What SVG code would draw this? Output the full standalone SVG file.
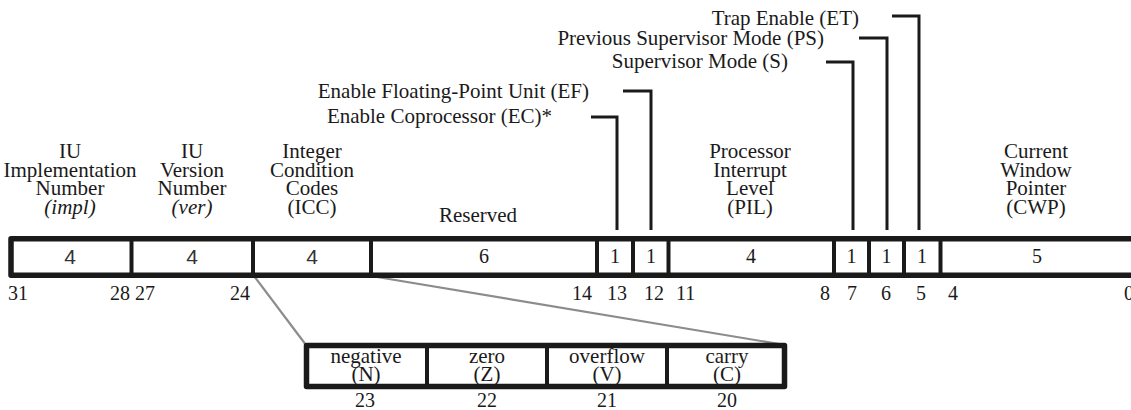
<svg xmlns="http://www.w3.org/2000/svg" width="1131" height="410" viewBox="0 0 1131 410">
<style>
.t{font-family:"Liberation Serif","Times New Roman",serif;font-size:21px;fill:#1a1a1a;text-anchor:middle}
.n{font-family:"Liberation Serif","Times New Roman",serif;font-size:20px;fill:#1a1a1a;text-anchor:middle}
.sans{font-family:"Liberation Sans",Arial,sans-serif;font-size:21px;fill:#333;text-anchor:middle}
.e{text-anchor:end}
.s{text-anchor:start}
.i{font-style:italic}
.box{fill:#fff;stroke:#1a1a1a;stroke-width:5.5;stroke-linejoin:round}
.div{stroke:#1a1a1a;stroke-width:4}
.ptr{fill:none;stroke:#1a1a1a;stroke-width:3}
.gray{stroke:#8c8c8c;stroke-width:2.2;fill:none}
</style>
<rect width="1131" height="410" fill="#fff"/>
<g id="connectors">
<polyline class="ptr" points="591,117 617,117 617,230"/>
<polyline class="ptr" points="623,91 651,91 651,230"/>
<polyline class="ptr" points="826,62 853,62 853,230"/>
<polyline class="ptr" points="859,38 887,38 887,230"/>
<polyline class="ptr" points="892,16 919,16 919,230"/>
<line class="gray" x1="254" y1="276" x2="306" y2="345"/>
<line class="gray" x1="371" y1="276" x2="785" y2="345"/>
</g>
<g id="register">
<rect class="box" x="11" y="238.75" width="1130" height="36.5"/>
<g class="div">
<line x1="131.5" y1="238" x2="131.5" y2="276"/>
<line x1="253" y1="238" x2="253" y2="276"/>
<line x1="371" y1="238" x2="371" y2="276"/>
<line x1="597" y1="238" x2="597" y2="276"/>
<line x1="633" y1="238" x2="633" y2="276"/>
<line x1="668.5" y1="238" x2="668.5" y2="276"/>
<line x1="834" y1="238" x2="834" y2="276"/>
<line x1="869" y1="238" x2="869" y2="276"/>
<line x1="904" y1="238" x2="904" y2="276"/>
<line x1="940.5" y1="238" x2="940.5" y2="276"/>
</g>
</g>
<g id="impl">
<text class="t" x="70" y="158">IU</text>
<text class="t" x="70" y="177">Implementation</text>
<text class="t" x="70" y="195">Number</text>
<text class="t i" x="70" y="214">(impl)</text>
<text class="sans" x="70" y="264">4</text>
<text class="n s" x="8" y="300">31</text>
<text class="n e" x="130" y="300">28</text>
</g>
<g id="ver">
<text class="t" x="192" y="158">IU</text>
<text class="t" x="192" y="177">Version</text>
<text class="t" x="192" y="195">Number</text>
<text class="t i" x="192" y="214">(ver)</text>
<text class="sans" x="192" y="264">4</text>
<text class="n s" x="135" y="300">27</text>
<text class="n e" x="250" y="300">24</text>
</g>
<g id="icc">
<text class="t" x="312" y="158">Integer</text>
<text class="t" x="312" y="177">Condition</text>
<text class="t" x="312" y="195">Codes</text>
<text class="t" x="312" y="214">(ICC)</text>
<text class="sans" x="312" y="264">4</text>
</g>
<g id="reserved">
<text class="t" x="478" y="222">Reserved</text>
<text class="n" x="484" y="263">6</text>
<text class="n e" x="592" y="300">14</text>
</g>
<g id="ec">
<text class="t e" x="552" y="122.5">Enable Coprocessor (EC)*</text>
<text class="n" x="615" y="263">1</text>
<text class="n" x="617" y="300">13</text>
</g>
<g id="ef">
<text class="t e" x="589" y="98">Enable Floating-Point Unit (EF)</text>
<text class="n" x="651" y="263">1</text>
<text class="n" x="654" y="300">12</text>
</g>
<g id="pil">
<text class="t" x="750" y="158">Processor</text>
<text class="t" x="750" y="177">Interrupt</text>
<text class="t" x="750" y="195">Level</text>
<text class="t" x="750" y="214">(PIL)</text>
<text class="n" x="751" y="263">4</text>
<text class="n s" x="676" y="300">11</text>
<text class="n e" x="830" y="300">8</text>
</g>
<g id="s">
<text class="t e" x="788" y="68">Supervisor Mode (S)</text>
<text class="n" x="851.5" y="263">1</text>
<text class="n" x="852" y="300">7</text>
</g>
<g id="ps">
<text class="t e" x="824" y="45">Previous Supervisor Mode (PS)</text>
<text class="n" x="886.5" y="263">1</text>
<text class="n" x="886" y="300">6</text>
</g>
<g id="et">
<text class="t e" x="859" y="25">Trap Enable (ET)</text>
<text class="n" x="922" y="263">1</text>
<text class="n" x="921" y="300">5</text>
</g>
<g id="cwp">
<text class="t" x="1036" y="158">Current</text>
<text class="t" x="1036" y="177">Window</text>
<text class="t" x="1036" y="195">Pointer</text>
<text class="t" x="1036" y="214">(CWP)</text>
<text class="n" x="1037" y="263">5</text>
<text class="n s" x="948" y="300">4</text>
<text class="n s" x="1124" y="300">0</text>
</g>
<g id="icc-detail">
<rect class="box" x="306.5" y="345.5" width="478" height="41" stroke-width="5"/>
<g class="div">
<line x1="427" y1="345" x2="427" y2="387"/>
<line x1="547" y1="345" x2="547" y2="387"/>
<line x1="667" y1="345" x2="667" y2="387"/>
</g>
</g>
<g id="n">
<text class="t" x="366" y="363">negative</text>
<text class="t" x="366" y="381">(N)</text>
<text class="n" x="365" y="407">23</text>
</g>
<g id="z">
<text class="t" x="487" y="363">zero</text>
<text class="t" x="487" y="381">(Z)</text>
<text class="n" x="487" y="407">22</text>
</g>
<g id="v">
<text class="t" x="607" y="363">overflow</text>
<text class="t" x="607" y="381">(V)</text>
<text class="n" x="607" y="407">21</text>
</g>
<g id="c">
<text class="t" x="727" y="363">carry</text>
<text class="t" x="727" y="381">(C)</text>
<text class="n" x="727" y="407">20</text>
</g>
</svg>
